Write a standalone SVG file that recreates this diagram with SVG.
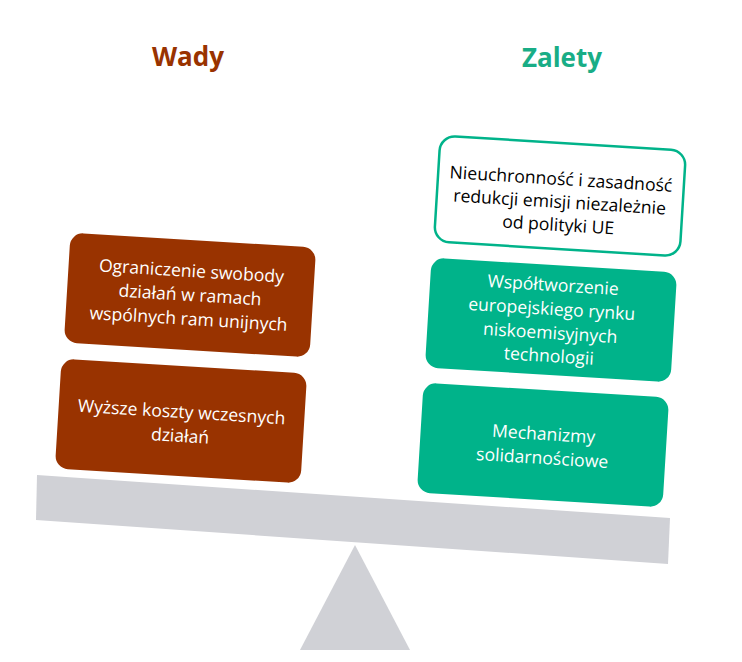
<svg xmlns="http://www.w3.org/2000/svg" width="742" height="662" viewBox="0 0 742 662">
<style>
.title{font-family:"Open Sans","Liberation Sans",sans-serif;font-weight:700;font-size:26px;text-anchor:middle}
.t{font-family:"Open Sans","Liberation Sans",sans-serif;font-size:17.6px;text-anchor:middle}
.w{fill:#ffffff}
.k{fill:#000000}
.brown{fill:#993300}
.green{fill:#00B38A}
.white{fill:#ffffff;stroke:#00B38A;stroke-width:2.5}
.gray{fill:#D0D1D6}
</style>
<rect width="742" height="662" fill="#ffffff"/>
<text class="title" x="188" y="66" fill="#993300">Wady</text>
<text class="title" x="562" y="67" fill="#19AD86">Zalety</text>
<g id="scale">
<polygon class="gray" points="37,475 670,518 668,564 36,520"/>
<polygon class="gray" points="355,545 410,650 300,650"/>
</g>
<g id="wada1" transform="translate(190,295) rotate(3.5)">
<rect class="brown" x="-123" y="-55" width="246" height="110" rx="13"/>
<text class="t w" y="-18">Ograniczenie swobody</text>
<text class="t w" y="6">działań w ramach</text>
<text class="t w" y="30">wspólnych ram unijnych</text>
</g>
<g id="wada2" transform="translate(181,421) rotate(3.5)">
<rect class="brown" x="-123" y="-55" width="246" height="110" rx="13"/>
<text class="t w" y="-3">Wyższe koszty wczesnych</text>
<text class="t w" y="21">działań</text>
</g>
<g id="zaleta1" transform="translate(560,196) rotate(3.5)">
<rect class="white" x="-123" y="-53" width="246" height="106" rx="15"/>
<text class="t k" y="-11">Nieuchronność i zasadność</text>
<text class="t k" y="12">redukcji emisji niezależnie</text>
<text class="t k" y="35">od polityki UE</text>
</g>
<g id="zaleta2" transform="translate(551,320) rotate(3.5)">
<rect class="green" x="-123" y="-55" width="246" height="110" rx="13"/>
<text class="t w" y="-29">Współtworzenie</text>
<text class="t w" y="-5">europejskiego rynku</text>
<text class="t w" y="19">niskoemisyjnych</text>
<text class="t w" y="42">technologii</text>
</g>
<g id="zaleta3" transform="translate(543,445) rotate(3.5)">
<rect class="green" x="-123" y="-55" width="246" height="110" rx="13"/>
<text class="t w" y="-5">Mechanizmy</text>
<text class="t w" y="19">solidarnościowe</text>
</g>
</svg>
